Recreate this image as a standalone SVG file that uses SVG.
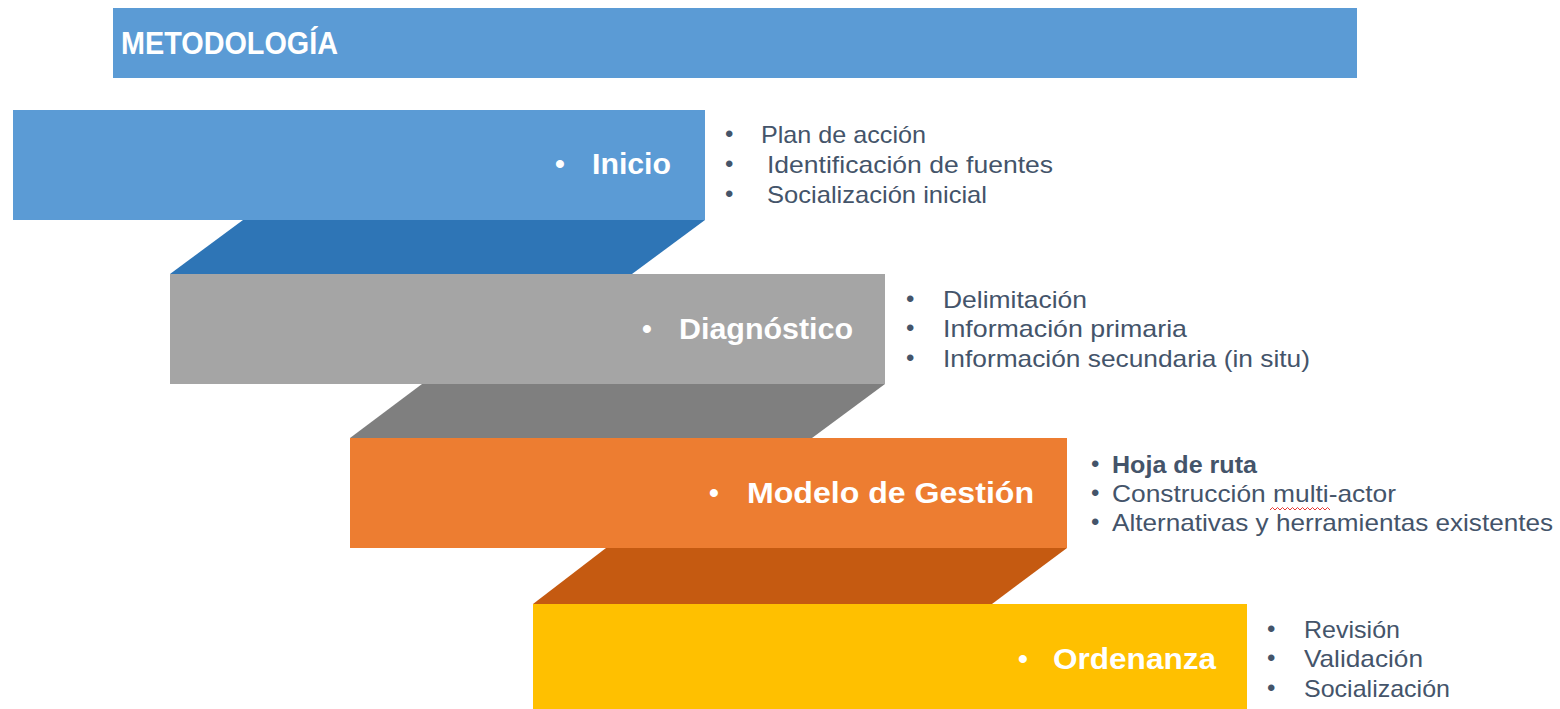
<svg xmlns="http://www.w3.org/2000/svg" width="1560" height="709" viewBox="0 0 1560 709">
<style>
.lbl{font-family:"Liberation Sans",Arial,sans-serif;font-weight:bold;fill:#FFFFFF;font-size:29px}
.blt{font-family:"Liberation Sans",Arial,sans-serif;font-weight:bold;fill:#FFFFFF;font-size:28px}
.ttl{font-family:"Liberation Sans",Arial,sans-serif;font-weight:bold;fill:#FFFFFF;font-size:31px}
.li{font-family:"Liberation Sans",Arial,sans-serif;fill:#44546A;font-size:24px}
.b{font-weight:bold}
</style>
<rect width="1560" height="709" fill="#FFFFFF"/>
<g id="title">
<rect x="113" y="8" width="1244" height="70" fill="#5B9BD5"/>
<text class="ttl" x="121" y="54" textLength="217" lengthAdjust="spacingAndGlyphs">METODOLOGÍA</text>
</g>
<g id="connectors">
<polygon points="243,220 705,220 632,274 170,274" fill="#2E75B6"/>
<polygon points="422,384 885,384 812,438 350,438" fill="#7F7F7F"/>
<polygon points="606,548 1067,548 992,604 533,604" fill="#C55A11"/>
</g>
<g id="inicio">
<rect x="13" y="110" width="692" height="110" fill="#5B9BD5"/>
<text class="blt" x="555" y="173">•</text>
<text class="lbl" x="592" y="174" textLength="79" lengthAdjust="spacingAndGlyphs">Inicio</text>
</g>
<g id="diagnostico">
<rect x="170" y="274" width="715" height="110" fill="#A5A5A5"/>
<text class="blt" x="642" y="338">•</text>
<text class="lbl" x="679" y="339" textLength="174" lengthAdjust="spacingAndGlyphs">Diagnóstico</text>
</g>
<g id="modelo">
<rect x="350" y="438" width="717" height="110" fill="#ED7D31"/>
<text class="blt" x="709" y="502">•</text>
<text class="lbl" x="747" y="503" textLength="287" lengthAdjust="spacingAndGlyphs">Modelo de Gestión</text>
</g>
<g id="ordenanza">
<rect x="533" y="604" width="714" height="110" fill="#FFC000"/>
<text class="blt" x="1018" y="668">•</text>
<text class="lbl" x="1053" y="669" textLength="163" lengthAdjust="spacingAndGlyphs">Ordenanza</text>
</g>
<g id="inicio-list">
<text class="li" x="725" y="142">•</text>
<text class="li" x="761" y="143" textLength="165" lengthAdjust="spacingAndGlyphs">Plan de acción</text>
<text class="li" x="725" y="172">•</text>
<text class="li" x="767" y="173" textLength="286" lengthAdjust="spacingAndGlyphs">Identificación de fuentes</text>
<text class="li" x="725" y="202">•</text>
<text class="li" x="767" y="203" textLength="220" lengthAdjust="spacingAndGlyphs">Socialización inicial</text>
</g>
<g id="diagnostico-list">
<text class="li" x="906" y="307">•</text>
<text class="li" x="943" y="308" textLength="144" lengthAdjust="spacingAndGlyphs">Delimitación</text>
<text class="li" x="906" y="336">•</text>
<text class="li" x="943" y="337" textLength="244" lengthAdjust="spacingAndGlyphs">Información primaria</text>
<text class="li" x="906" y="366">•</text>
<text class="li" x="943" y="367" textLength="367" lengthAdjust="spacingAndGlyphs">Información secundaria (in situ)</text>
</g>
<g id="modelo-list">
<text class="li" x="1091" y="472">•</text>
<text class="li b" x="1112" y="473" textLength="145" lengthAdjust="spacingAndGlyphs">Hoja de ruta</text>
<text class="li" x="1091" y="501">•</text>
<text class="li" x="1112" y="502" textLength="284" lengthAdjust="spacingAndGlyphs">Construcción multi-actor</text>
<path d="M1270,510 l2.5,-2.5 l2.5,2.5 l2.5,-2.5 l2.5,2.5 l2.5,-2.5 l2.5,2.5 l2.5,-2.5 l2.5,2.5 l2.5,-2.5 l2.5,2.5 l2.5,-2.5 l2.5,2.5 l2.5,-2.5 l2.5,2.5 l2.5,-2.5 l2.5,2.5 l2.5,-2.5 l2.5,2.5 l2.5,-2.5 l2.5,2.5 l2.5,-2.5 l2.5,2.5 l2.5,-2.5 l2.5,2.5" fill="none" stroke="#E53935" stroke-width="1"/>
<text class="li" x="1091" y="530">•</text>
<text class="li" x="1112" y="531" textLength="441" lengthAdjust="spacingAndGlyphs">Alternativas y herramientas existentes</text>
</g>
<g id="ordenanza-list">
<text class="li" x="1267" y="637">•</text>
<text class="li" x="1304" y="638" textLength="96" lengthAdjust="spacingAndGlyphs">Revisión</text>
<text class="li" x="1267" y="666">•</text>
<text class="li" x="1304" y="667" textLength="119" lengthAdjust="spacingAndGlyphs">Validación</text>
<text class="li" x="1267" y="696">•</text>
<text class="li" x="1304" y="697" textLength="146" lengthAdjust="spacingAndGlyphs">Socialización</text>
</g>
</svg>
